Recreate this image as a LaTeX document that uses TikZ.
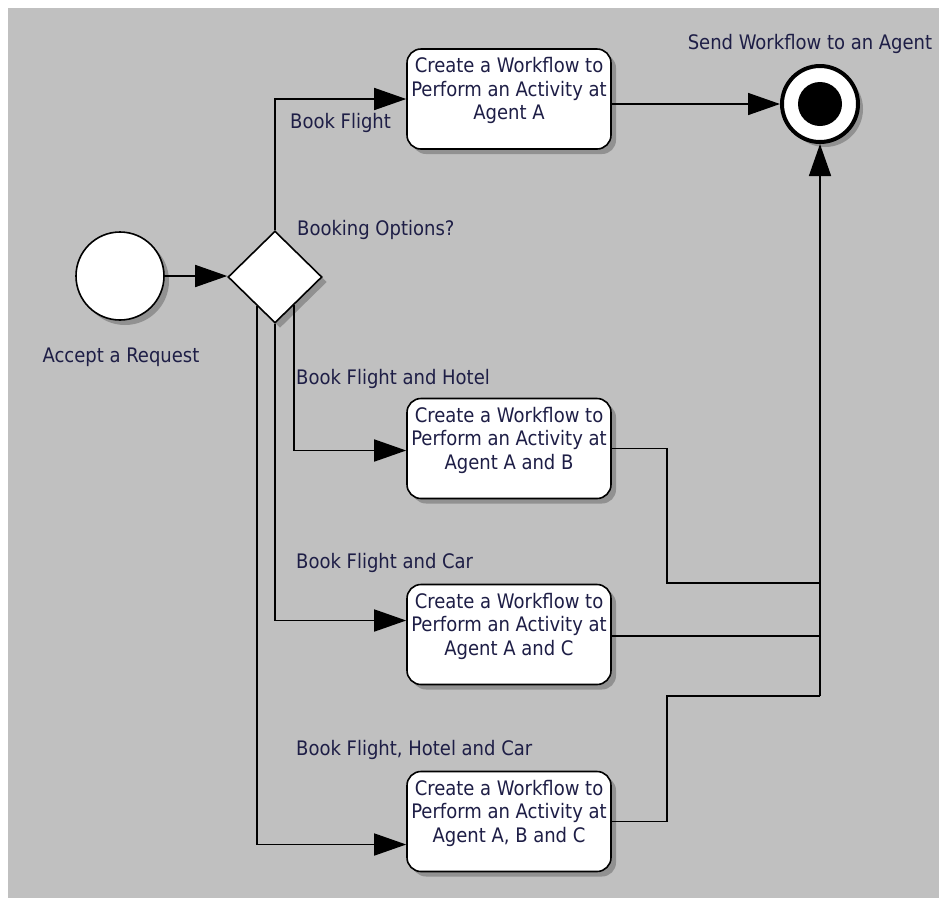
\documentclass[tikz,border=0pt]{standalone}
\usepackage{fontspec}
\setmainfont{DejaVu Sans Condensed}
\usetikzlibrary{arrows.meta,shapes.geometric,shadows,calc}

\definecolor{canvas}{RGB}{192,192,192}
\definecolor{ink}{RGB}{30,30,70}
\definecolor{shade}{RGB}{145,145,145}

\tikzset{
  wire/.style={line width=1.6pt, draw=black},
  flow/.style={wire, -{Triangle[length=32pt,width=22pt]}},
  shadowed/.style={drop shadow={shadow xshift=5pt, shadow yshift=-5pt, fill=shade, opacity=1}},
  taskbox/.style={draw, line width=1.6pt, fill=white, rounded corners=14pt,
    minimum width=204pt, minimum height=100pt, inner sep=0pt, shadowed},
  tasktext/.style={anchor=north, inner sep=0pt, align=center, text=ink,
    font=\fontsize{20}{23.5}\selectfont},
  lbl/.style={inner sep=0pt, text=ink, font=\fontsize{20}{24}\selectfont},
}

\begin{document}
\begin{tikzpicture}[x=1pt,y=-1pt]
\useasboundingbox (0,0) rectangle (939,898);
\fill[white] (0,0) rectangle (939,898);
\fill[canvas] (8,8) rectangle (939,898);

% start, decision and end markers
\node[circle, draw, line width=1.6pt, fill=white, minimum size=88pt, inner sep=0pt, shadowed] (start) at (120,276) {};
\node[diamond, draw, line width=1.6pt, fill=white, minimum width=94pt, minimum height=92pt, inner sep=0pt, shadowed] (choice) at (275,277) {};
\node[circle, draw, line width=4pt, fill=white, minimum size=76pt, inner sep=0pt, shadowed] (finish) at (820,104) {};
\node[circle, fill=black, minimum size=44pt, inner sep=0pt] (finishdot) at (finish) {};

% activity boxes
\node[taskbox] (b1) at (509,99) {};
\node[taskbox] (b2) at (509,448.5) {};
\node[taskbox] (b3) at (509,634.5) {};
\node[taskbox] (b4) at (509,821.5) {};
\node[tasktext] (t1) at ([yshift=-9pt]b1.north) {Create a Workflow to\\Perform an Activity at\\Agent A};
\node[tasktext] (t2) at ([yshift=-9pt]b2.north) {Create a Workflow to\\Perform an Activity at\\Agent A and B};
\node[tasktext] (t3) at ([yshift=-9pt]b3.north) {Create a Workflow to\\Perform an Activity at\\Agent A and C};
\node[tasktext] (t4) at ([yshift=-9pt]b4.north) {Create a Workflow to\\Perform an Activity at\\Agent A, B and C};

% left side connectors
\draw[flow] (start.east) -- (start.east -| choice.west);
\coordinate (cright) at ($(choice.south)!0.4!(choice.east)$);
\coordinate (cleft) at ($(choice.south)!0.38!(choice.west)$);
\draw[flow] (choice.north) |- (b1.west);
\draw[flow] (cright) |- ([yshift=-2pt]b2.west);
\draw[flow] (choice.south) |- ([yshift=14pt]b3.west);
\draw[flow] (cleft) |- ([yshift=-23pt]b4.west);

% right side connectors
\coordinate (k2) at (667,583);
\coordinate (k4) at (667,696);
\draw[flow] (finish.west -| b1.east) -- (finish.west);
\draw[wire] (b2.east) -| (k2) -- (k2 -| finish.south);
\draw[wire] ([yshift=-1.5pt]b3.east) -- ([yshift=-1.5pt]b3.east -| finish.south);
\draw[wire] (b4.east) -| (k4) -- (k4 -| finish.south);
\draw[flow] (k4 -| finish.south) -- (finish.south);

% labels
\node[lbl, anchor=base] (sendlbl) at (810,49) {Send Workflow to an Agent};
\node[lbl, anchor=base west] (optlbl) at (297,235) {Booking Options?};
\node[lbl, anchor=base] (acclbl) at (121,362) {Accept a Request};
\node[lbl, anchor=base west] (l1) at (290,128) {Book Flight};
\node[lbl, anchor=base west] (l2) at (296,384) {Book Flight and Hotel};
\node[lbl, anchor=base west] (l3) at (296,568) {Book Flight and Car};
\node[lbl, anchor=base west] (l4) at (296,755) {Book Flight, Hotel and Car};
\end{tikzpicture}
\end{document}
